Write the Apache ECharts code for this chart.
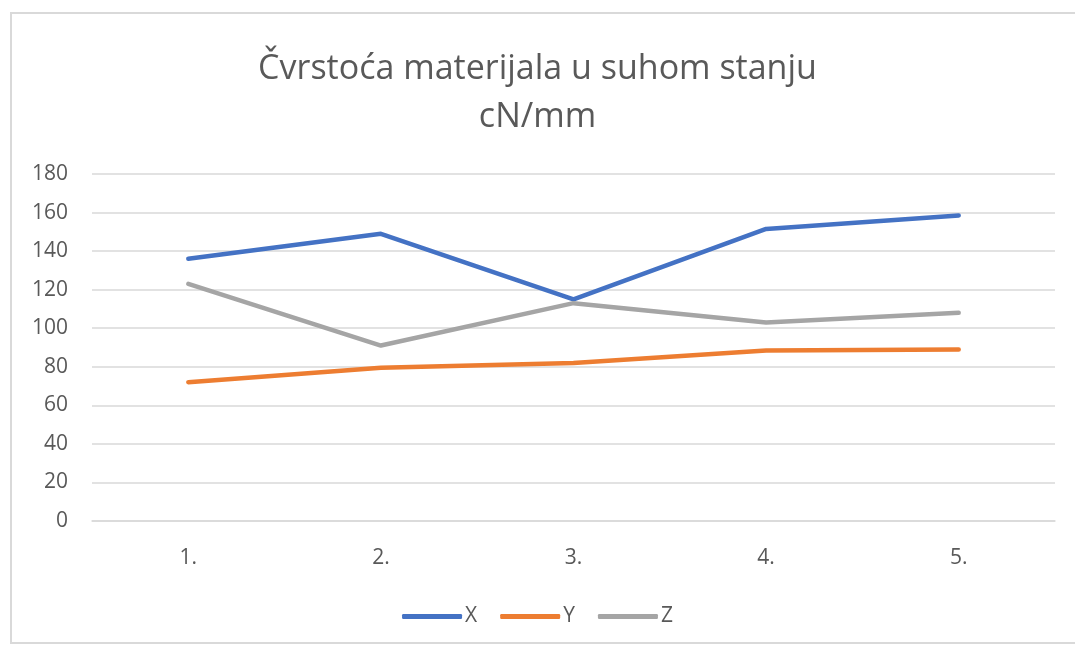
<!DOCTYPE html>
<html>
<head>
<meta charset="utf-8">
<title>Čvrstoća materijala</title>
<script src="https://cdn.jsdelivr.net/npm/echarts@6/dist/echarts.min.js"></script>
<style>
  html, body { margin: 0; padding: 0; background: #fff; }
  #frame { position: absolute; left: 10px; top: 12px; width: 1080px; height: 632px; border: 2px solid #d9d9d9; box-sizing: border-box; }
  #main { width: 1075px; height: 653px; position: absolute; left: 0; top: 0; }
</style>
</head>
<body>
<div id="frame"></div>
<div id="main"></div>
<script>
  // kategorije i vrijednosti ocitane s grafa
  var categories = ['1.', '2.', '3.', '4.', '5.'];
  var xValues = [136, 149, 115, 151.5, 158.5];
  var yValues = [72, 79.5, 82, 88.5, 89];
  var zValues = [123, 91, 113, 103, 108];
  var seriesNames = ['X', 'Y', 'Z'];
  var colors = ['#4472C4', '#ED7D31', '#A5A5A5'];

  var myChart = echarts.init(document.getElementById('main'));
  var font = 'Open Sans, Noto Sans, sans-serif';

  function line(name, data, color) {
    return {
      name: name,
      type: 'line',
      data: data,
      symbol: 'none',
      lineStyle: { width: 4.5, color: color, cap: 'round', join: 'round' },
      itemStyle: { color: color }
    };
  }

  var option = {
    animation: false,
    title: {
      text: 'Čvrstoća materijala u suhom stanju\ncN/mm',
      left: 'center',
      top: 40,
      textStyle: { fontFamily: font, fontSize: 34, fontWeight: 'normal', color: '#595959', lineHeight: 48 }
    },
    legend: {
      data: seriesNames,
      top: 601,
      left: 'center',
      itemWidth: 60,
      itemHeight: 5,
      itemGap: 23,
      icon: 'roundRect',
      textStyle: { fontFamily: font, fontSize: 21, color: '#595959', padding: [0, 0, 0, -2] }
    },
    grid: { left: 92, right: 20, top: 174, bottom: 132 },
    xAxis: {
      type: 'category',
      data: categories,
      boundaryGap: true,
      axisLine: { lineStyle: { color: '#d9d9d9', width: 1.5 } },
      axisTick: { show: false },
      axisLabel: { fontFamily: font, fontSize: 21, color: '#595959', margin: 27 }
    },
    yAxis: {
      type: 'value',
      min: 0,
      max: 180,
      interval: 20,
      axisLine: { show: false },
      axisTick: { show: false },
      splitLine: { lineStyle: { color: '#d9d9d9', width: 1.5 } },
      axisLabel: { fontFamily: font, fontSize: 21, color: '#595959', margin: 24 }
    },
    series: [
      line(seriesNames[0], xValues, colors[0]),
      line(seriesNames[1], yValues, colors[1]),
      line(seriesNames[2], zValues, colors[2])
    ]
  };

  myChart.setOption(option);
</script>
</body>
</html>
